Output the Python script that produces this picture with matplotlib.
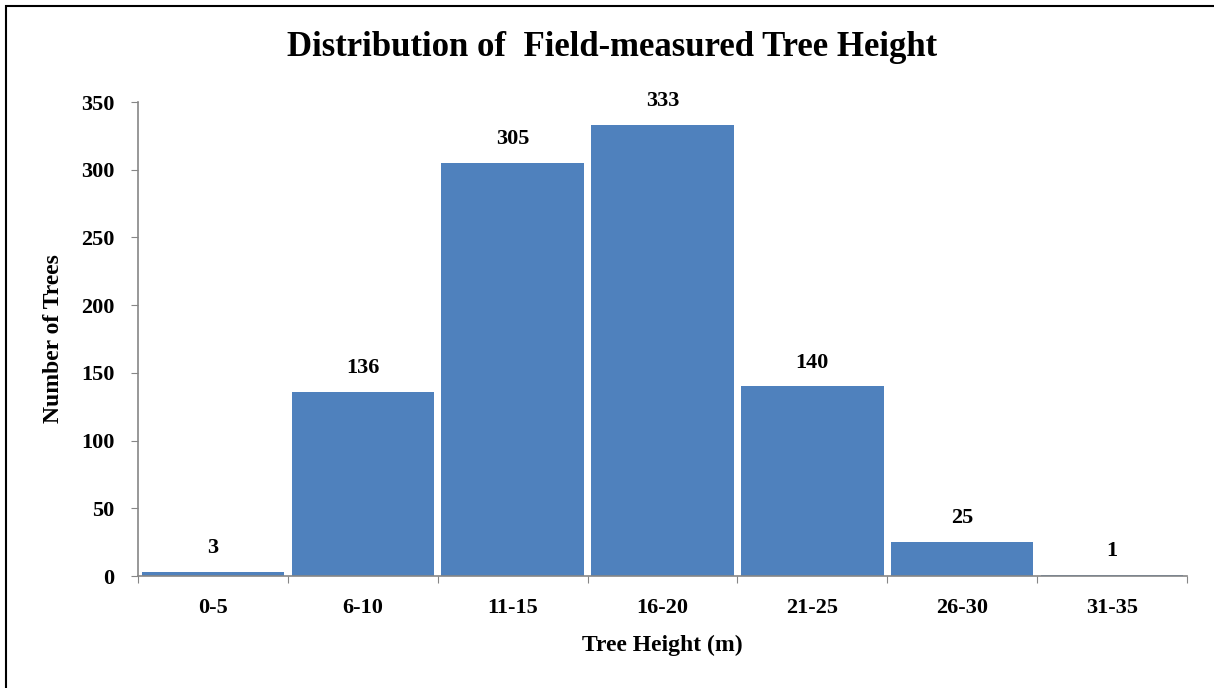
import matplotlib
matplotlib.use("Agg")
import matplotlib.pyplot as plt
from matplotlib.patches import Rectangle

categories = ["0-5", "6-10", "11-15", "16-20", "21-25", "26-30", "31-35"]
counts = [3, 136, 305, 333, 140, 25, 1]
yticks = [0, 50, 100, 150, 200, 250, 300, 350]

plt.rcParams['font.family'] = ['Liberation Serif', 'DejaVu Serif']
plt.rcParams['font.weight'] = 'bold'

W, H = 1214, 688
fig = plt.figure(figsize=(W / 100, H / 100), dpi=100)
# chart border: only its top and left edges fall inside the image
fig.patches.append(Rectangle((6 / W, -0.1), 1.2, 1.1 - 6 / H,
                             transform=fig.transFigure, fill=False,
                             edgecolor='black', linewidth=1.5))

ax = fig.add_axes([138 / W, 1 - 576 / H, (1187 - 138) / W, (576 - 102) / H])
x = list(range(len(categories)))
ax.bar(x, counts, width=0.95, color='#4F81BD', edgecolor='none')
ax.set_xlim(-0.5, len(categories) - 0.5)
ax.set_ylim(0, 350)
ax.set_yticks(yticks)
ax.set_yticklabels([str(v) for v in yticks], fontsize=16, fontweight='bold')
ax.set_xticks([i - 0.5 for i in range(len(categories) + 1)])
ax.set_xticklabels([])
ax.set_xticks(x, minor=True)
ax.set_xticklabels(categories, minor=True, fontsize=16, fontweight='bold')
ax.tick_params(axis='x', which='minor', length=0, pad=16)
ax.tick_params(axis='x', which='major', length=5, color='#868686', direction='out')
ax.tick_params(axis='y', length=5, color='#868686', direction='out', pad=12)
for s in ['top', 'right']:
    ax.spines[s].set_visible(False)
for s in ['left', 'bottom']:
    ax.spines[s].set_color('#868686')
    ax.spines[s].set_linewidth(1.2)

for xi, c in zip(x, counts):
    ax.annotate(str(c), (xi, c), xytext=(0, 10), textcoords='offset points',
                ha='center', va='bottom', fontsize=16, fontweight='bold')

ax.set_xlabel("Tree Height (m)", fontsize=17, fontweight='bold', labelpad=12)
ax.set_ylabel("Number of Trees", fontsize=17, fontweight='bold', labelpad=12)
fig.text(612 / W, 1 - 48 / H, "Distribution of  Field-measured Tree Height",
         ha='center', va='center', fontsize=25, fontweight='bold')

fig.savefig("out.png", dpi=100)
